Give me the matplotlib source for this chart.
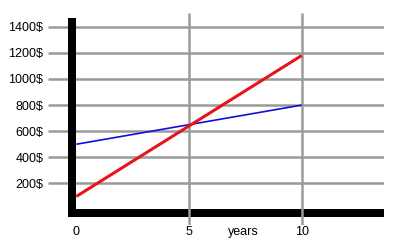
import matplotlib
matplotlib.use("Agg")
import matplotlib.pyplot as plt
from matplotlib.patches import Rectangle

plt.rcParams['font.family'] = ['Liberation Sans', 'DejaVu Sans']

years = [0, 10]
red_values = [100, 1180]
blue_values = [500, 800]
y_ticks = [200, 400, 600, 800, 1000, 1200, 1400]
y_tick_labels = [f"{v}$" for v in y_ticks]
x_ticks = [0, 5, 10]
x_tick_labels = ["0", "5", "10"]
x_axis_label = "years"

fig = plt.figure(figsize=(4.01, 2.42), dpi=100)
ax = fig.add_axes([48/401, (242-225)/242, 336/401, 212/242])
xmin, xmax = -1.2556, 13.651
ymin, ymax = -118.8, 1505.7
ax.set_xlim(xmin, xmax)
ax.set_ylim(ymin, ymax)
for s in ax.spines.values():
    s.set_visible(False)

grid_color = '#9a9a9a'
ax.hlines(y_ticks, xmin, xmax, color=grid_color, lw=1.8, zorder=1)
ax.vlines([5, 10], ymin, ymax, color=grid_color, lw=1.8, zorder=3)

# thick black axes
ax.add_patch(Rectangle((-0.37, -55), 0.37, 1467 + 55, color='black', lw=0, zorder=2))
ax.add_patch(Rectangle((-0.37, -55), xmax + 0.37, 57, color='black', lw=0, zorder=2))

ax.plot(years, blue_values, color='#1010d8', lw=1.2, zorder=4, solid_capstyle='butt')
ax.plot(years, red_values, color='#e8141a', lw=2.2, zorder=5, solid_capstyle='butt')

ax.set_yticks(y_ticks)
ax.set_yticklabels(y_tick_labels, fontsize=9)
ax.set_xticks(x_ticks)
ax.set_xticklabels(x_tick_labels, fontsize=9)
ax.tick_params(axis='y', length=0, pad=3.4)
ax.tick_params(axis='x', length=0, pad=0.6)
ax.text(7.4, -175, x_axis_label, fontsize=9, ha='center', va='center', clip_on=False)

fig.savefig("out.png", dpi=100)
